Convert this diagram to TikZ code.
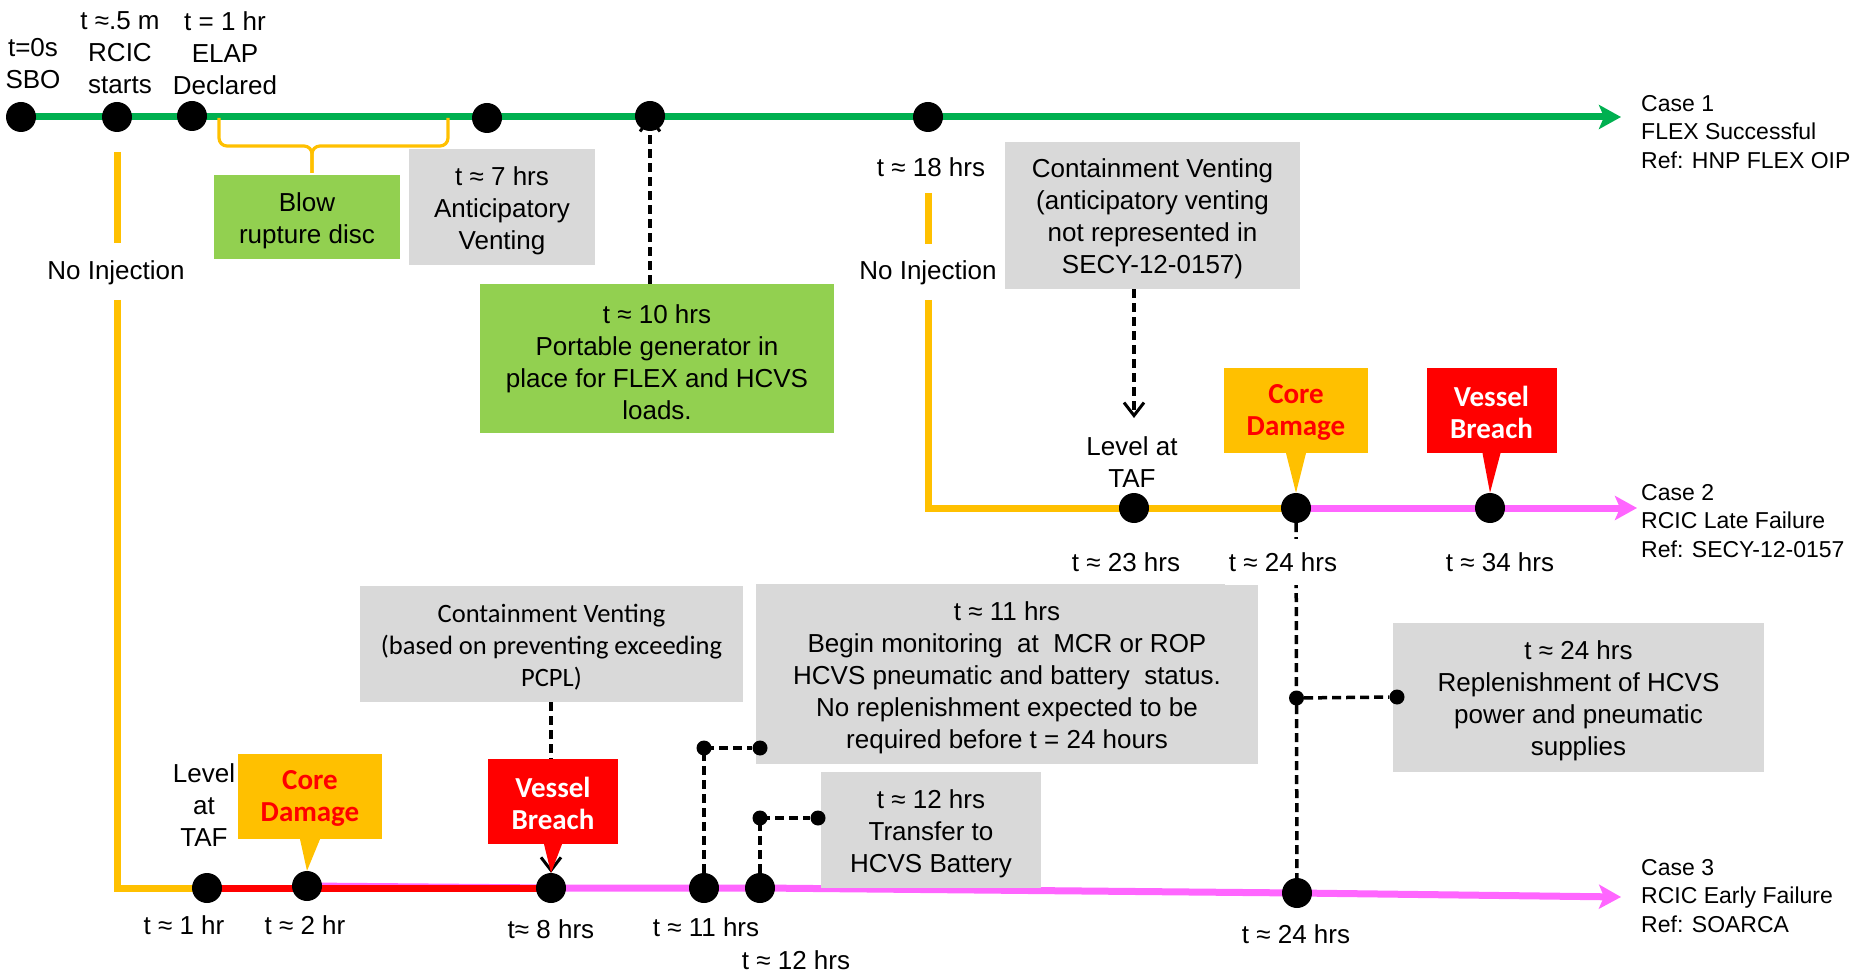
\documentclass[tikz,border=0pt]{standalone}
\usepackage{fontspec}
\setmainfont{Liberation Sans}
\newfontfamily\calfont{Carlito}
\usetikzlibrary{arrows.meta,calc}
\pgfdeclarelayer{background}
\pgfsetlayers{background,main}
\definecolor{lgreen}{HTML}{00B050}
\definecolor{lgbox}{HTML}{92D050}
\definecolor{ylw}{HTML}{FFC000}
\definecolor{pnk}{HTML}{FF66FF}
\definecolor{gry}{HTML}{D9D9D9}
\begin{document}
\begin{tikzpicture}[x=1pt,y=-1pt,
  bigdot/.style={circle,fill=black,minimum size=30pt,inner sep=0pt},
  smalldot/.style={circle,fill=black,minimum size=15pt,inner sep=0pt},
  lbl/.style={font=\fontsize{26}{32}\selectfont,align=center,inner sep=0pt},
  btxt/.style={lbl,yshift=-3.5pt},
  ctxt/.style={lbl,font=\calfont\fontsize{26.5}{32}\selectfont,yshift=-3.5pt},
  caselbl/.style={font=\fontsize{23}{28.5}\selectfont,align=left,anchor=west,inner sep=0pt},
  graybox/.style={fill=gry,inner sep=0pt},
  greenbox/.style={fill=lgbox,inner sep=0pt},
  cdbox/.style={fill=ylw,inner sep=0pt,minimum width=144pt,minimum height=85pt},
  vbbox/.style={cdbox,fill=red,minimum width=130pt},
  cdtxt/.style={text=red,font=\calfont\bfseries\fontsize{29}{32}\selectfont,align=center,inner sep=0pt,yshift=-1.5pt},
  vbtxt/.style={cdtxt,text=white,yshift=0pt},
  tline/.style={line width=7pt},
  dashline/.style={line width=3.5pt,dash pattern=on 9pt off 5pt},
  barb/.style={-{Straight Barb[length=13pt,width=20pt,line width=3pt]}},
  bigtip/.style={-{Stealth[length=22pt,width=24pt,inset=5pt]}}
]
\useasboundingbox (0,0) rectangle (1858,973);

% ---- end points
\coordinate (c1end) at (1621,117);
\coordinate (c2end) at (1637,508);
\coordinate (c3end) at (1621,897);
\coordinate (y3a) at (117,152);
\coordinate (y3b) at (117,243);
\coordinate (y3c) at (117,300);
\coordinate (y2a) at (928,193);
\coordinate (y2b) at (928,244);
\coordinate (y2c) at (928,300);
\coordinate (vent2end) at (1134,418);

% ---- boxes
\node[greenbox,minimum width=186pt,minimum height=84pt,
  label={[btxt]center:{Blow\\rupture disc}}] (rupt) at (307,217) {};
\node[graybox,minimum width=186pt,minimum height=116pt,
  label={[btxt]center:{t ≈ 7 hrs\\Anticipatory\\Venting}}] (vent7) at (502,207) {};
\node[greenbox,minimum width=354pt,minimum height=149pt,
  label={[btxt]center:{t ≈ 10 hrs\\Portable generator in\\place for FLEX and HCVS\\loads.}}] (gen10) at (657,358.5) {};
\node[graybox,minimum width=295pt,minimum height=147pt,
  label={[btxt]center:{Containment Venting\\(anticipatory venting\\not represented in\\SECY-12-0157)}}] (vent2) at (1152.5,215.5) {};
\node[graybox,minimum width=383pt,minimum height=116pt,
  label={[ctxt]center:{Containment Venting\\(based on preventing exceeding\\PCPL)}}] (vent3) at (551.5,644) {};
\node[graybox,minimum width=502pt,minimum height=180pt,
  label={[btxt]center:{t ≈ 11 hrs\\Begin monitoring\ \ at\ \ MCR or ROP\\HCVS pneumatic and battery\ \ status.\\No replenishment expected to be\\required before t = 24 hours}}] (mon11) at (1007,674) {};
\node[graybox,minimum width=220pt,minimum height=116pt,
  label={[btxt]center:{t ≈ 12 hrs\\Transfer to\\HCVS Battery}}] (tr12) at (931,830) {};
\node[graybox,minimum width=371pt,minimum height=149pt,
  label={[btxt]center:{t ≈ 24 hrs\\Replenishment of HCVS\\power and pneumatic\\supplies}}] (rep24) at (1578.5,697.5) {};
\node[cdbox,label={[cdtxt]center:{Core\\Damage}}] (cd2) at (1296,410.5) {};
\node[vbbox,label={[vbtxt]center:{Vessel\\Breach}}] (vb2) at (1491.5,410.5) {};
\node[cdbox,label={[cdtxt]center:{Core\\Damage}}] (cd3) at (310,796.5) {};
\node[vbbox,label={[vbtxt]center:{Vessel\\Breach}}] (vb3) at (553,801.5) {};

% ---- dots
\node[bigdot] (d0) at (21,117) {};
\node[bigdot] (d05) at (117,117) {};
\node[bigdot] (d1h) at (192,116) {};
\node[bigdot] (d7) at (487,118) {};
\node[bigdot] (d10) at (650,116) {};
\node[bigdot] (d18) at (928,117) {};
\node[bigdot] (taf2d) at (1134,508) {};
\node[bigdot] (d24b) at (1296,508) {};
\node[bigdot] (d34) at (1490,508) {};
\node[bigdot] (d1) at (207,888) {};
\node[bigdot] (d2) at (307,886) {};
\node[bigdot] (d8) at (551,888) {};
\node[bigdot] (d11) at (704,888) {};
\node[bigdot] (d12) at (760,888) {};
\node[bigdot] (d24c) at (1297,893) {};
\node[smalldot] (s11a) at (704,748) {};
\node[smalldot] (s11b) at (760,748) {};
\node[smalldot] (s12a) at (760,818) {};
\node[smalldot] (s12b) at (818,818) {};
\node[smalldot] (s24a) at (1296.5,698) {};
\node[smalldot] (s24b) at (1397,697) {};

% ---- pointers
\fill[ylw] ($(cd3.south)+(-10,0)$) -- ($(cd3.south)+(10,0)$) -- (d2.north) -- cycle;
\fill[red] ($(vb3.south)+(-9,0)$) -- ($(vb3.south)+(9,0)$) -- (d8.north) -- cycle;
\fill[ylw] ($(cd2.south)+(-10,0)$) -- ($(cd2.south)+(10,0)$) -- (d24b.north) -- cycle;
\fill[red] ($(vb2.south)+(-9,0)$) -- ($(vb2.south)+(9,0)$) -- (d34.north) -- cycle;

% ---- labels
\node[lbl] (lsbo) at (33,64) {t=0s\\SBO};
\node[lbl] (lrcic) at (120,53) {t ≈.5 m\\RCIC\\starts};
\node[lbl] (lelap) at (225,53) {t = 1 hr\\ELAP\\Declared};
\node[lbl] (l18) at (931,167) {t ≈ 18 hrs};
\node[lbl] (ni1) at (116,273) {No Injection};
\node[lbl] (ni2) at (928,273) {No Injection};
\node[lbl] (ltaf2) at (1132,462) {Level at\\TAF};
\node[lbl] (l23) at (1126,562) {t ≈ 23 hrs};
\node[lbl,fill=white,inner xsep=4pt,inner ysep=13pt] (l24b) at (1283,562) {t ≈ 24 hrs};
\node[lbl] (l34) at (1500,562) {t ≈ 34 hrs};
\node[lbl] (ltaf3) at (204,805) {Level\\at\\TAF};
\node[lbl] (l1) at (184,925) {t ≈ 1 hr};
\node[lbl] (l2) at (305,925) {t ≈ 2 hr};
\node[lbl] (l8) at (551,929) {t≈ 8 hrs};
\node[lbl] (l11) at (706,927) {t ≈ 11 hrs};
\node[lbl] (l12) at (796,960) {t ≈ 12 hrs};
\node[lbl] (l24c) at (1296,934) {t ≈ 24 hrs};
\node[caselbl] (case1) at (1641,132) {Case 1\\FLEX Successful\\Ref: HNP FLEX OIP};
\node[caselbl] (case2) at (1641,521) {Case 2\\RCIC Late Failure\\Ref: SECY-12-0157};
\node[caselbl] (case3) at (1641,896) {Case 3\\RCIC Early Failure\\Ref: SOARCA};

% ---- lines underneath
\begin{pgfonlayer}{background}
  % yellow
  \draw[tline,ylw] (y3a) -- (y3b);
  \draw[tline,ylw] (y3c) |- (d1.center);
  \draw[tline,ylw] (y2a) -- (y2b);
  \draw[tline,ylw] (y2c) |- (d24b.center);
  % case 1
  \draw[tline,lgreen,bigtip] (d0.center) -- (c1end);
  % case 2
  \draw[tline,pnk,bigtip] (d24b.center) -- (c2end);
  % case 3
  \draw[tline,pnk,bigtip] (d2.center) -- (d8.center) -- (d11.center) -- (d12.center) -- (d24c.center) -- (c3end);
  \draw[tline,red] (d1.center) -- (d8.center);
  % brace
  \draw[ylw,line width=3.2pt,rounded corners=8pt] (219,118) -- (219,146) -- (312,146) -- (312,173);
  \draw[ylw,line width=3.2pt,rounded corners=8pt] (448,118) -- (448,146) -- (312,146) -- (312,173);
  % dashed connectors
  \draw[dashline,barb] (d10 |- gen10.north) -- (d10.center);
  \draw[dashline,barb] (taf2d |- vent2.south) -- (vent2end);
  \draw[dashline,barb] (d8 |- vent3.south) -- (d8);
  \draw[dashline] (d11) |- (s11b);
  \draw[dashline] (d12) |- (s12b);
  \draw[dashline] (d24b) -- (d24c);
  \draw[dashline] (s24a) -- (s24b);
\end{pgfonlayer}
\end{tikzpicture}
\end{document}
